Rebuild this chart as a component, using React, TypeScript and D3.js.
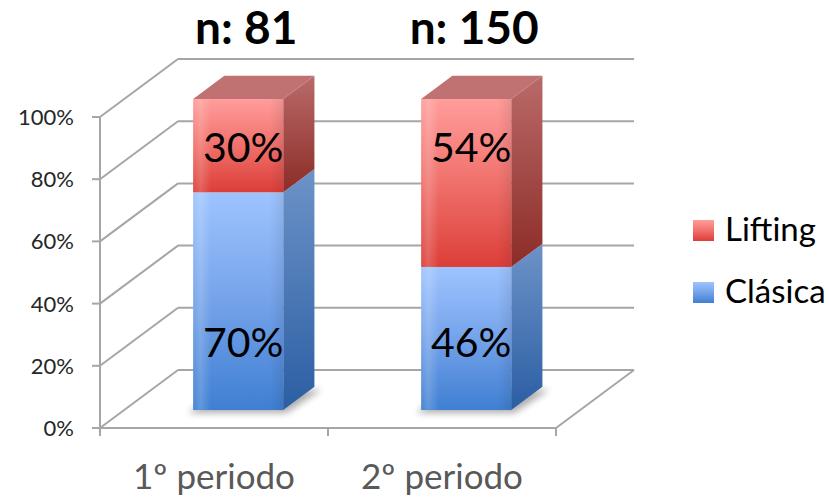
import React from 'react';
import * as d3 from 'd3';

// Categories, sample sizes and stacked series (percent of each period)
const categories = ['1º periodo', '2º periodo'];
const sampleSizes = ['n: 81', 'n: 150'];
const seriesKeys = ['Clásica', 'Lifting'];
const clasica = [70, 46];
const lifting = [30, 54];
const yTicks = [0, 20, 40, 60, 80, 100];

const W = 829;
const H = 498;
// front plane of the 3D plot box
const PLOT = { left: 100, right: 556, top: 117, bottom: 428 };
// depth projection (full depth of the box)
const DX = 78;
const DY = 58;
// bars occupy this slice of the depth
const BAR_FRONT = 0.31;
const BAR_BACK = 0.71;
const BAR_RATIO = 0.395;

const FONT = 'Lato, "Open Sans", sans-serif';
const GRID = '#a6a6a6';

const rows = categories.map((c, i) => ({ cat: c, 'Clásica': clasica[i], Lifting: lifting[i] }));

export default function App() {
  const x = d3.scaleBand<string>().domain(categories).range([PLOT.left, PLOT.right]);
  const y = d3.scaleLinear().domain([0, 100]).range([PLOT.bottom, PLOT.top]);
  const stack = d3.stack<any>().keys(seriesKeys);
  const layers = stack(rows as any);

  const barW = x.bandwidth() * BAR_RATIO;
  const fdx = BAR_FRONT * DX;
  const fdy = BAR_FRONT * DY;
  const sdx = (BAR_BACK - BAR_FRONT) * DX;
  const sdy = (BAR_BACK - BAR_FRONT) * DY;

  const pts = (p: [number, number][]) => p.map((q) => q.join(',')).join(' ');

  const fills: Record<string, { front: string; side: string; top: string }> = {
    'Clásica': { front: 'url(#blueFront)', side: 'url(#blueSide)', top: '#7e9fd0' },
    Lifting: { front: 'url(#redFront)', side: 'url(#redSide)', top: '#c07272' },
  };

  const barX = (cat: string) => (x(cat) as number) + x.bandwidth() / 2 - barW / 2 + fdx;
  const barY = (v: number) => y(v) - fdy;

  return (
    <svg
      width={W}
      height={H}
      viewBox={`0 0 ${W} ${H}`}
      style={{ position: 'absolute', left: 0, top: 0, background: '#fff' }}
    >
      <defs>
        <linearGradient id="redFront" x1="0" y1="0" x2="0" y2="1">
          <stop offset="0" stopColor="#ff9d9b" />
          <stop offset="0.45" stopColor="#f27570" />
          <stop offset="1" stopColor="#dc3e38" />
        </linearGradient>
        <linearGradient id="redSide" x1="0" y1="0" x2="0" y2="1">
          <stop offset="0" stopColor="#b96a69" />
          <stop offset="1" stopColor="#8c2c27" />
        </linearGradient>
        <linearGradient id="blueFront" x1="0" y1="0" x2="0" y2="1">
          <stop offset="0" stopColor="#9ec4ff" />
          <stop offset="0.45" stopColor="#79a6ec" />
          <stop offset="1" stopColor="#3f7fd2" />
        </linearGradient>
        <linearGradient id="blueSide" x1="0" y1="0" x2="0" y2="1">
          <stop offset="0" stopColor="#6d93c8" />
          <stop offset="1" stopColor="#2b5ea3" />
        </linearGradient>
        <linearGradient id="sheen" x1="0" y1="0" x2="1" y2="0">
          <stop offset="0" stopColor="#fff" stopOpacity="0.05" />
          <stop offset="0.08" stopColor="#fff" stopOpacity="0.18" />
          <stop offset="0.2" stopColor="#fff" stopOpacity="0" />
          <stop offset="0.85" stopColor="#000" stopOpacity="0" />
          <stop offset="1" stopColor="#000" stopOpacity="0.08" />
        </linearGradient>
        <filter id="soft" x="-30%" y="-30%" width="160%" height="160%">
          <feGaussianBlur stdDeviation="3.5" />
        </filter>
      </defs>

      {/* back wall gridlines and left wall diagonals */}
      <g stroke={GRID} strokeWidth={2} fill="none">
        {yTicks.map((t) => (
          <g key={t}>
            <line x1={PLOT.left + DX} x2={PLOT.right + DX} y1={y(t) - DY} y2={y(t) - DY} />
            <line x1={PLOT.left} y1={y(t)} x2={PLOT.left + DX} y2={y(t) - DY} />
          </g>
        ))}
        {/* floor right edge */}
        <line x1={PLOT.right} y1={y(0)} x2={PLOT.right + DX} y2={y(0) - DY} />
        {/* front axes */}
        <line x1={PLOT.left} y1={y(100)} x2={PLOT.left} y2={y(0)} />
        <line x1={PLOT.left} y1={y(0)} x2={PLOT.right} y2={y(0)} />
        {yTicks.map((t) => (
          <line key={'yt' + t} x1={PLOT.left - 8} x2={PLOT.left} y1={y(t)} y2={y(t)} />
        ))}
        {[PLOT.left, ...categories.map((c) => (x(c) as number) + x.bandwidth())].map((px, i) => (
          <line key={'xt' + i} x1={px} x2={px} y1={y(0)} y2={y(0) + 8} />
        ))}
      </g>

      {/* y tick labels */}
      <g fontFamily={FONT} fontSize={22} fill="#262626" textAnchor="end">
        {yTicks.map((t) => (
          <text key={t} x={PLOT.left - 26} y={y(t) + 8}>{`${t}%`}</text>
        ))}
      </g>

      {/* category labels */}
      <g fontFamily={FONT} fontSize={35} fill="#595959" textAnchor="middle">
        {categories.map((c) => (
          <text key={c} x={(x(c) as number) + x.bandwidth() / 2} y={489}>{c}</text>
        ))}
      </g>

      {/* soft shadows on the floor */}
      <g filter="url(#soft)" fill="#000" opacity={0.32}>
        {categories.map((c) => {
          const x0 = barX(c) - 5;
          const x1 = barX(c) + barW + 3;
          const yb = barY(0) + 3;
          return (
            <polygon
              key={c}
              points={pts([
                [x0, yb],
                [x1, yb],
                [x1 + sdx + 4, yb - sdy],
                [x0 + sdx, yb - sdy],
              ])}
            />
          );
        })}
      </g>

      {/* stacked 3D bars */}
      {categories.map((c, i) => {
        const x0 = barX(c);
        const x1 = x0 + barW;
        return (
          <g key={c}>
            {layers.map((layer, li) => {
              const [v0, v1] = layer[i] as unknown as [number, number];
              const key = layer.key;
              const yt = barY(v1);
              const yb = barY(v0);
              const isTop = li === layers.length - 1;
              return (
                <g key={key}>
                  <polygon
                    points={pts([
                      [x1, yt],
                      [x1 + sdx, yt - sdy],
                      [x1 + sdx, yb - sdy],
                      [x1, yb],
                    ])}
                    fill={fills[key].side}
                  />
                  <rect x={x0} y={yt} width={barW} height={yb - yt} fill={fills[key].front} />
                  <rect x={x0} y={yt} width={barW} height={yb - yt} fill="url(#sheen)" />
                  {isTop && (
                    <polygon
                      points={pts([
                        [x0, yt],
                        [x1, yt],
                        [x1 + sdx, yt - sdy],
                        [x0 + sdx, yt - sdy],
                      ])}
                      fill={fills[key].top}
                    />
                  )}
                </g>
              );
            })}
          </g>
        );
      })}

      {/* value labels: top segment inside end, bottom segment inside base */}
      <g fontFamily={FONT} fontSize={41} fill="#000" textAnchor="middle">
        {categories.map((c, i) => {
          const cx = barX(c) + barW / 2 + 5;
          const top = layers[1][i] as unknown as [number, number];
          const base = layers[0][i] as unknown as [number, number];
          return (
            <g key={c}>
              <text x={cx} y={barY(top[1]) + 63}>{`${lifting[i]}%`}</text>
              <text x={cx} y={barY(base[0]) - 53}>{`${clasica[i]}%`}</text>
            </g>
          );
        })}
      </g>

      {/* sample sizes above each bar */}
      <g fontFamily={FONT} fontSize={46} fontWeight={700} fill="#000" textAnchor="middle">
        {categories.map((c, i) => (
          <text key={c} x={barX(c) + barW / 2 + 8} y={44}>{sampleSizes[i]}</text>
        ))}
      </g>

      {/* legend */}
      <g fontFamily={FONT} fontSize={33} fill="#000">
        {[...seriesKeys].reverse().map((k, i) => {
          const ly = 220 + i * 62;
          return (
            <g key={k}>
              <rect x={693} y={ly} width={21} height={21} fill={fills[k].front} />
              <text x={725} y={ly + 21}>{k}</text>
            </g>
          );
        })}
      </g>
    </svg>
  );
}
